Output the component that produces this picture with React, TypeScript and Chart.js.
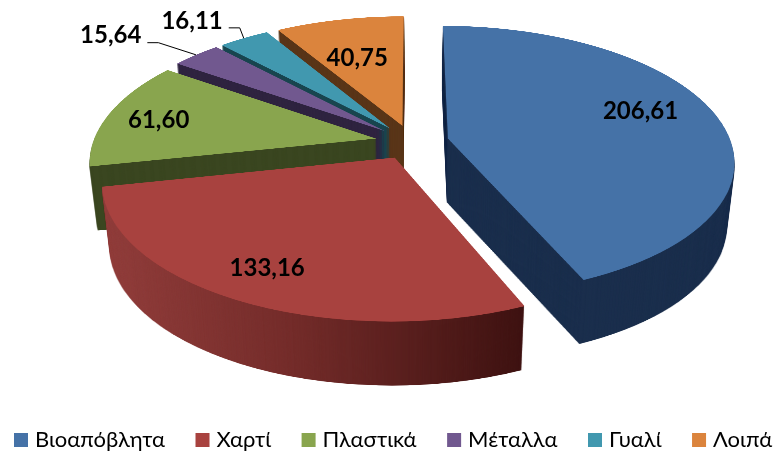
import React, { useEffect, useRef } from "react";
import { Chart, registerables } from "chart.js";

Chart.register(...registerables);

const categories = ["Βιοαπόβλητα", "Χαρτί", "Πλαστικά", "Μέταλλα", "Γυαλί", "Λοιπά"];
const values = [206.61, 133.16, 61.6, 15.64, 16.11, 40.75];
const topColors = ["#4572A7", "#A8423F", "#89A54E", "#71588F", "#4198AF", "#DB843D"];
const sideColors = ["#1B2F4D", "#6a2524", "#3A4620", "#2F2440", "#1A4650", "#5A3619"];
const explode = [0.13, 0.13, 0.13, 0.13, 0.13, 0.13];
const labelRadius = [0.745, 0.812, 0.805, 1.405, 1.282, 0.605];
const labelTurn = [-5.6, 0.6, -1.3, -4.1, -3.5, -1.9];
const leaderLabels = [false, false, false, true, true, false];
const paintOrder = [5, 4, 3, 2, 0, 1];

// camera of the 3-D pie
const CX = 412, CY = 142, RX = 283, RY = 132, PERSP = -0.1615, DEPTH = 64, SHRINK = 0.025;
const W = 774, H = 452, SRC_R = 500, SRC = 1500;
const FONT = "Lato, 'Noto Sans', sans-serif";

const project = (x: number, y: number) => {
  const d = 1 + PERSP * y;
  return { X: CX + (RX * x) / d, Y: CY + (RY * y) / d };
};

function makeLayer(arc: any, color: string, explodeBy: number, gradient: boolean) {
  const src = document.createElement("canvas");
  src.width = SRC; src.height = SRC;
  const s = src.getContext("2d")!;
  const k = SRC_R / arc.outerRadius;
  const mid = (arc.startAngle + arc.endAngle) / 2;
  s.setTransform(
    k, 0, 0, k,
    SRC / 2 - k * arc.x + Math.cos(mid) * explodeBy * SRC_R,
    SRC / 2 - k * arc.y + Math.sin(mid) * explodeBy * SRC_R
  );
  const saved = arc.options;
  const o = Object.create(saved);
  o.backgroundColor = color;
  o.borderWidth = 0;
  arc.options = o;
  arc.draw(s);
  arc.options = saved;

  const out = document.createElement("canvas");
  out.width = W; out.height = H;
  const c = out.getContext("2d")!;
  for (let row = 0; row < H; row++) {
    const a = row - CY, b = row + 1 - CY;
    const y0 = a / (RY - PERSP * a), y1 = b / (RY - PERSP * b);
    const ym = (y0 + y1) / 2;
    const m = RX / (1 + PERSP * ym) / SRC_R;
    const sy = SRC / 2 + y0 * SRC_R, sh = (y1 - y0) * SRC_R;
    if (sy + sh < 0 || sy > SRC) continue;
    c.drawImage(src, 0, sy, SRC, sh, CX - (SRC / 2) * m, row, SRC * m, 1);
  }
  if (gradient) {
    const g = c.createLinearGradient(100, 0, 525, 0);
    g.addColorStop(0, "#923e3c");
    g.addColorStop(0.45, "#742c2a");
    g.addColorStop(1, "#3e1211");
    c.globalCompositeOperation = "source-in";
    c.fillStyle = g;
    c.fillRect(0, 0, W, H);
  }
  return out;
}

const pie3d = {
  id: "pie3d",
  beforeDatasetDraw: () => false,
  afterDatasetsDraw(chart: any) {
    const ctx = chart.ctx as CanvasRenderingContext2D;
    const arcs = chart.getDatasetMeta(0).data;
    ctx.save();
    for (const i of paintOrder) {
      const side = makeLayer(arcs[i], sideColors[i], explode[i], i === 1);
      const top = makeLayer(arcs[i], topColors[i], explode[i], false);
      for (let d = DEPTH; d >= 1; d--) {
        const s = 1 - (SHRINK * d) / DEPTH;
        ctx.setTransform(s, 0, 0, 1, CX * (1 - s), d);
        ctx.drawImage(side, 0, 0);
      }
      ctx.setTransform(1, 0, 0, 1, 0, 0);
      ctx.drawImage(top, 0, 0);
    }
    ctx.font = `bold 24px ${FONT}`;
    ctx.fillStyle = "#000";
    ctx.textAlign = "center";
    ctx.textBaseline = "middle";
    arcs.forEach((arc: any, i: number) => {
      const mid = (arc.startAngle + arc.endAngle) / 2;
      const ax = explode[i] * Math.cos(mid), ay = explode[i] * Math.sin(mid);
      const t = mid + (labelTurn[i] * Math.PI) / 180;
      const p = project(ax + labelRadius[i] * Math.cos(t), ay + labelRadius[i] * Math.sin(t));
      const text = values[i].toFixed(2).replace(".", ",");
      ctx.fillText(text, p.X, p.Y);
      if (leaderLabels[i]) {
        const rim = project(ax + Math.cos(mid), ay + Math.sin(mid));
        const sx = p.X + ctx.measureText(text).width / 2 + 6;
        const sy = p.Y + 7;
        ctx.beginPath();
        ctx.moveTo(sx, sy);
        ctx.lineTo(sx + 11, sy);
        ctx.lineTo(rim.X, rim.Y);
        ctx.strokeStyle = "#000";
        ctx.lineWidth = 1;
        ctx.stroke();
      }
    });

    // legend row
    ctx.font = `22px ${FONT}`;
    ctx.textAlign = "left";
    ctx.textBaseline = "alphabetic";
    let x = 14;
    categories.forEach((name, i) => {
      ctx.fillStyle = topColors[i];
      ctx.fillRect(x, 433, 14, 14);
      ctx.fillStyle = "#000";
      ctx.fillText(name, x + 21, 447);
      x += 21 + ctx.measureText(name).width + 30.5;
    });
    ctx.restore();
  },
};

export default function App() {
  const ref = useRef<HTMLCanvasElement>(null);
  useEffect(() => {
    const chart = new Chart(ref.current!, {
      type: "pie",
      data: {
        labels: categories,
        datasets: [{ data: values, backgroundColor: topColors, borderWidth: 0 }],
      },
      options: {
        responsive: false,
        animation: false,
        plugins: {
          legend: { display: false },
          tooltip: { enabled: false },
        },
      },
      plugins: [pie3d],
    } as any);
    return () => chart.destroy();
  }, []);
  return (
    <canvas
      ref={ref}
      width={W}
      height={H}
      style={{ position: "fixed", left: 0, top: 0, width: W, height: H, background: "#fff" }}
    />
  );
}
